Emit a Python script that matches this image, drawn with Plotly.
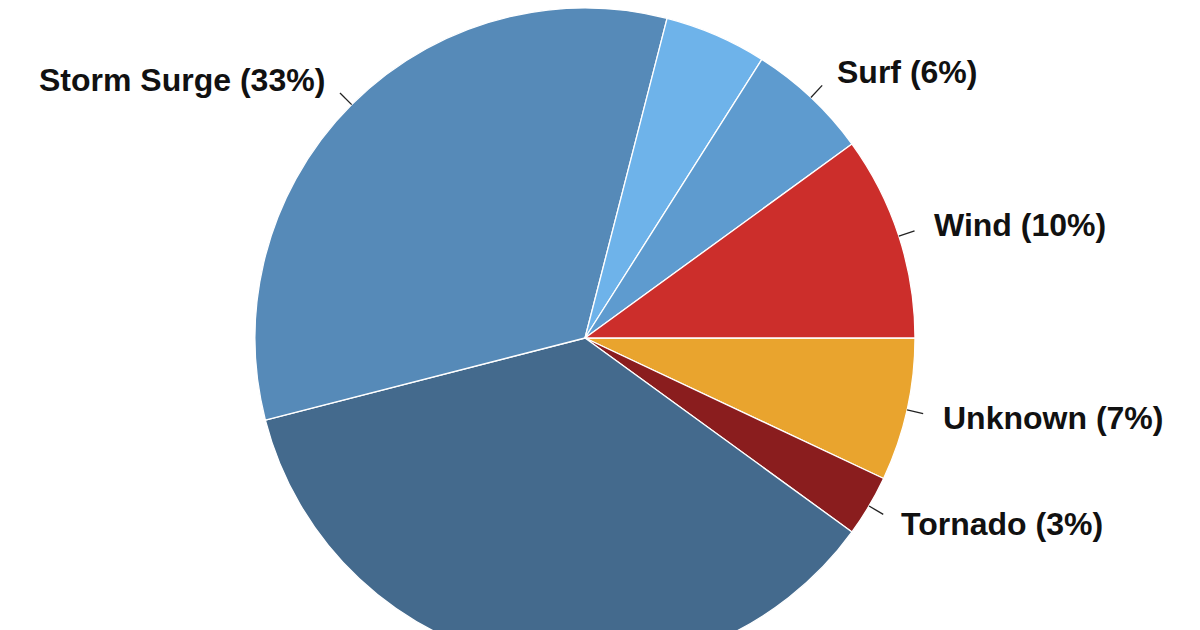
import math

import plotly.graph_objs as go

# slices listed clockwise, starting at 3 o'clock
causes = ["Unknown", "Tornado", "Rain", "Storm Surge", "Offshore", "Surf", "Wind"]
shares = [7, 3, 36, 33, 5, 6, 10]
colors = ["#e9a42e", "#8a1d1e", "#446a8d", "#568ab8", "#6eb3ea", "#5e9bcf", "#cc2e2b"]

# the figure is taller than the window, so the bottom of the pie is cut off
W, H = 1200, 660
DOMAIN_X = [0, 1154 / 1200]
ROTATION = 90

fig = go.Figure(go.Pie(
    labels=causes,
    values=shares,
    sort=False,
    direction="clockwise",
    rotation=ROTATION,
    textinfo="none",
    hoverinfo="label+percent",
    marker=dict(colors=colors, line=dict(color="white", width=1.3)),
    domain=dict(x=DOMAIN_X, y=[0, 1]),
    showlegend=False,
))

# pie geometry in pixels, to hang labels off each slice
cx = W * (DOMAIN_X[0] + DOMAIN_X[1]) / 2
cy = H / 2
r = min(W * (DOMAIN_X[1] - DOMAIN_X[0]), H) / 2

shapes = []
annotations = []
total = float(sum(shares))
start = ROTATION
for cause, share in zip(causes, shares):
    sweep = share / total * 360
    mid = math.radians(90 - (start + sweep / 2))  # maths angle
    start += sweep
    c, s = math.cos(mid), math.sin(mid)

    tx, ty = cx + 1.105 * r * c, cy - 1.105 * r * s
    if ty < 0 or ty > H:
        continue  # label falls outside the picture

    x0, y0 = cx + r * c, cy - r * s
    x1, y1 = cx + 1.05 * r * c, cy - 1.05 * r * s
    shapes.append(dict(
        type="line", xref="paper", yref="paper",
        x0=x0 / W, y0=1 - y0 / H, x1=x1 / W, y1=1 - y1 / H,
        line=dict(color="#222222", width=1.3),
    ))
    annotations.append(dict(
        x=tx / W, y=1 - ty / H, xref="paper", yref="paper",
        text="{} ({}%)".format(cause, share),
        showarrow=False,
        xanchor="left" if c > 0 else "right",
        yanchor="middle",
        font=dict(family="Liberation Sans, Arial, sans-serif", size=32,
                  color="#111111", weight="bold"),
    ))

fig.update_layout(
    width=W,
    height=H,
    margin=dict(l=0, r=0, t=0, b=0),
    paper_bgcolor="white",
    plot_bgcolor="white",
    shapes=shapes,
    annotations=annotations,
)

fig.write_html("out.html")
